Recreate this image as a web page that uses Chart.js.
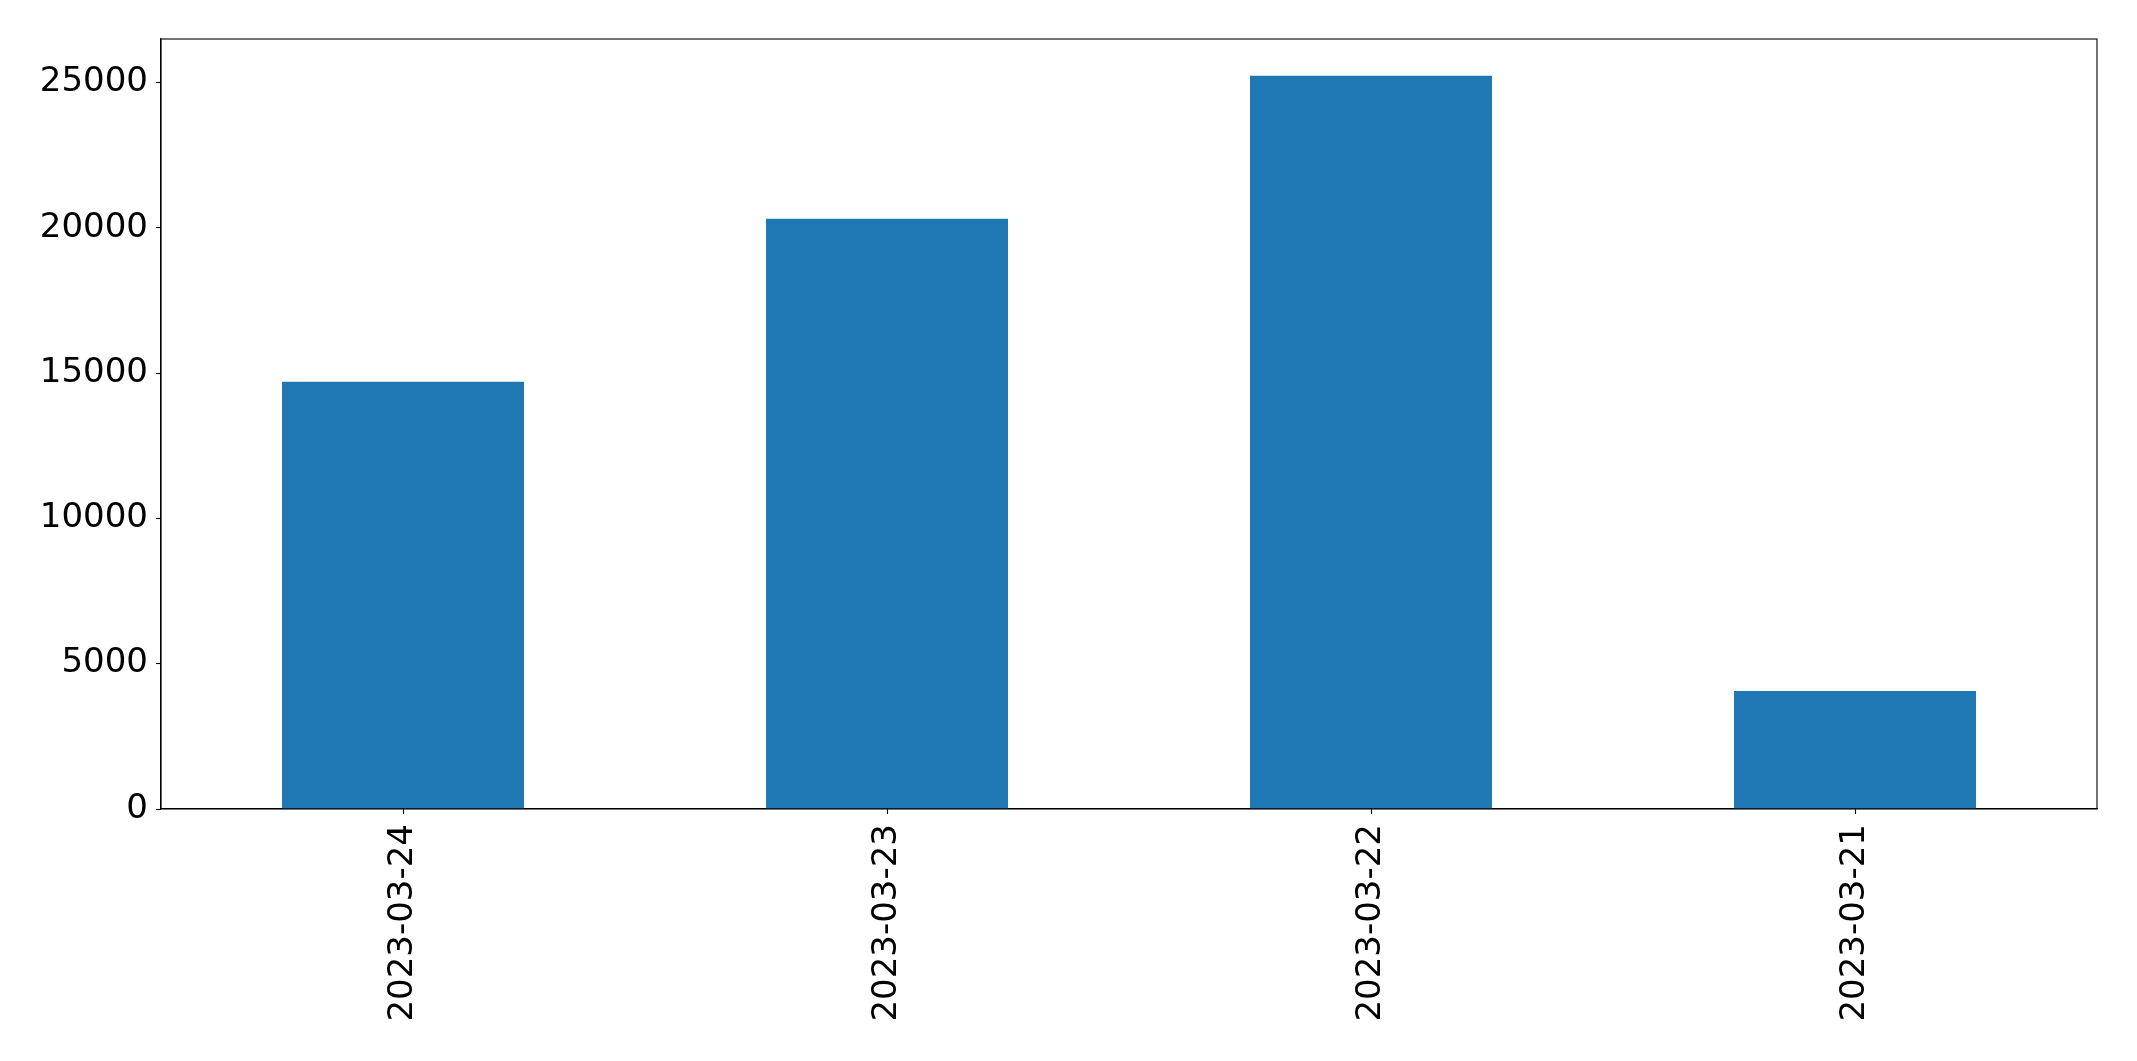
<!DOCTYPE html>
<html>
<head>
<meta charset="utf-8">
<script src="https://cdn.jsdelivr.net/npm/chart.js@4/dist/chart.umd.min.js"></script>
<style>
	body { margin: 0; background: #fff; }
	#wrap { width: 2137px; height: 1061px; }
</style>
</head>
<body>
<div id="wrap"><canvas id="myChart" width="2137" height="1061"></canvas></div>
<script>
const dates = ['2023-03-24', '2023-03-23', '2023-03-22', '2023-03-21'];
const counts = [14700, 20310, 25230, 4060];
const yTicks = [0, 5000, 10000, 15000, 20000, 25000];

// draws the top and right spines so the plot area is boxed
const frame = {
	id: 'frame',
	afterDraw(chart) {
		const { ctx, chartArea: a } = chart;
		ctx.save();
		ctx.strokeStyle = '#000';
		ctx.lineWidth = 1.1;
		ctx.strokeRect(a.left, a.top, a.right - a.left, a.bottom - a.top);
		ctx.restore();
	}
};

const font = { family: 'DejaVu Sans', size: 34 };

new Chart(document.getElementById('myChart'), {
	type: 'bar',
	data: {
		labels: dates,
		datasets: [
			{
				data: counts,
				backgroundColor: '#1f77b4',
				barPercentage: 0.5,
				categoryPercentage: 1.0
			}
		]
	},
	options: {
		responsive: false,
		animation: false,
		layout: { padding: { left: 0, top: 39, right: 40, bottom: 0 } },
		plugins: { legend: { display: false }, tooltip: { enabled: false } },
		scales: {
			x: {
				grid: { offset: false, drawOnChartArea: false, drawTicks: true, tickLength: 5, tickColor: '#000', tickWidth: 1.1 },
				border: { color: '#000', width: 1.1 },
				ticks: { color: '#000', font, minRotation: 90, maxRotation: 90, padding: 10 },
				afterFit(scale) { scale.height = 252; }
			},
			y: {
				min: 0,
				max: Math.max(...counts) * 1.05,
				grid: { drawOnChartArea: false, drawTicks: true, tickLength: 5, tickColor: '#000', tickWidth: 1.1 },
				border: { color: '#000', width: 1.1 },
				afterBuildTicks(scale) { scale.ticks = yTicks.map(v => ({ value: v })); },
				ticks: { color: '#000', font, padding: 8, callback: v => String(v) },
				afterFit(scale) { scale.width = 161; }
			}
		}
	},
	plugins: [frame]
});
</script>
</body>
</html>
